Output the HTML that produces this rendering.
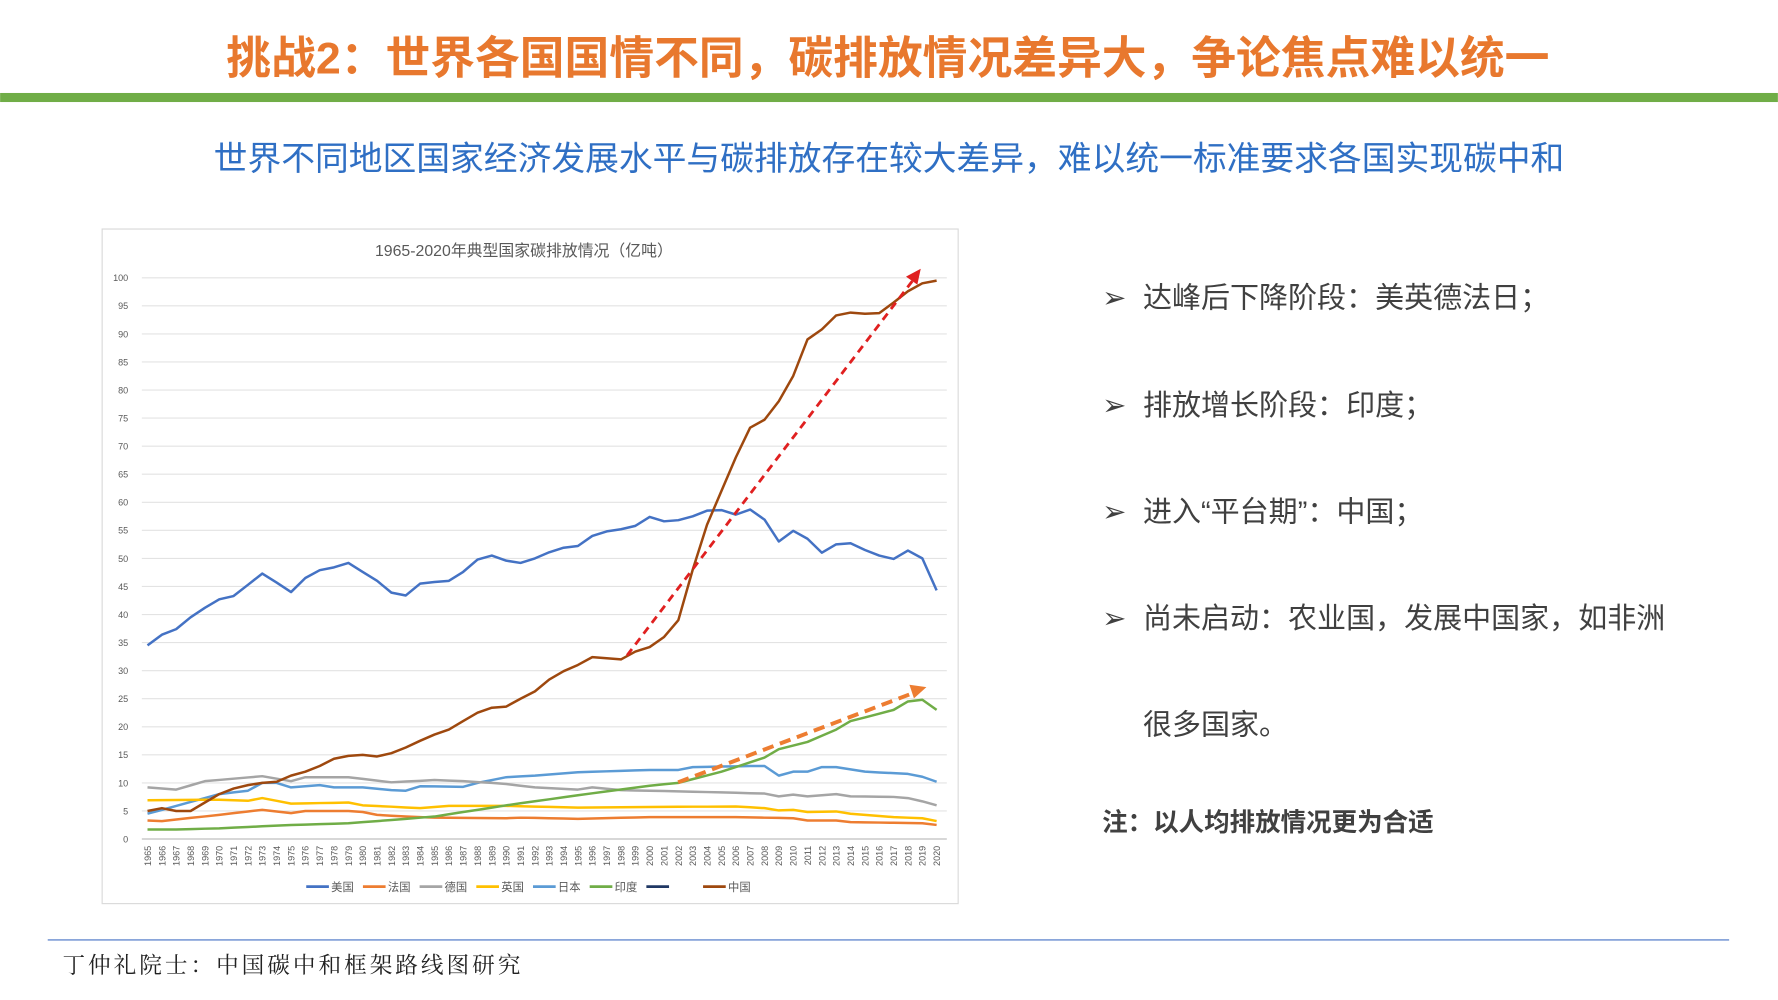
<!DOCTYPE html>
<html><head><meta charset="utf-8"><style>
html,body{margin:0;padding:0;background:#fff;}
svg{display:block;}
</style></head><body>
<svg id="s" width="1778" height="1000" viewBox="0 0 1568 882" xmlns="http://www.w3.org/2000/svg" font-family="Liberation Sans, Noto Sans CJK SC, sans-serif">
<rect width="1568" height="882" fill="#fff"/>
<text x="783" y="65" text-anchor="middle" font-size="39.5" font-weight="bold" fill="#E8782E" font-family="Liberation Sans, Noto Sans CJK SC, sans-serif">挑战2：世界各国国情不同，碳排放情况差异大，争论焦点难以统一</text>
<rect x="0" y="82" width="1568" height="8" fill="#70AD47"/>
<text x="784" y="150" text-anchor="middle" font-size="29.8" fill="#2F6FC4">世界不同地区国家经济发展水平与碳排放存在较大差异，难以统一标准要求各国实现碳中和</text>
<rect x="90" y="202" width="755" height="595" fill="#fff" stroke="#d9d9d9"/>
<text x="462" y="226" text-anchor="middle" font-size="14" fill="#595959">1965-2020年典型国家碳排放情况（亿吨）</text>
<g id="grid"></g>
<g id="lines" fill="none" stroke-width="2.2" stroke-linejoin="round"></g>
<line x1="553" y1="578" x2="806" y2="246" stroke="#E02020" stroke-width="2.5" stroke-dasharray="7,5"/>
<polygon points="812,237 799,244 809,251" fill="#E02020"/>
<line x1="598" y1="690" x2="806" y2="611" stroke="#ED7D31" stroke-width="3.5" stroke-dasharray="10,6"/>
<polygon points="817,606 802,604 806,616" fill="#ED7D31"/>
<g id="legend" font-size="10" fill="#595959"></g>
<g font-size="25.6" fill="#404040">
<text x="972" y="271">➢</text><text x="1008" y="271">达峰后下降阶段：美英德法日；</text>
<text x="972" y="366">➢</text><text x="1008" y="366">排放增长阶段：印度；</text>
<text x="972" y="460">➢</text><text x="1008" y="460">进入“平台期”：中国；</text>
<text x="972" y="554">➢</text><text x="1008" y="554">尚未启动：农业国，发展中国家，如非洲</text>
<text x="1008" y="648">很多国家。</text>
</g>
<text x="972" y="733" font-size="22.5" font-weight="bold" fill="#404040">注：以人均排放情况更为合适</text>
<line x1="42" y1="829" x2="1525" y2="829" stroke="#4472C4" stroke-width="1"/>
<text x="55" y="858" font-size="20" letter-spacing="2.6" fill="#222" font-family="Liberation Serif, Noto Serif CJK SC, serif">丁仲礼院士：中国碳中和框架路线图研究</text>
</svg>
<script>
var NS="http://www.w3.org/2000/svg";
function X(y){return 130+(y-1965)*12.655;}
function Y(v){return 740-v*4.95;}
function el(t,a,p,txt){var e=document.createElementNS(NS,t);for(var k in a)e.setAttribute(k,a[k]);if(txt!==undefined)e.textContent=txt;p.appendChild(e);return e;}
var g=document.getElementById('grid');
for(var v=0;v<=100;v+=5){el('line',{x1:125,x2:835,y1:Y(v),y2:Y(v),stroke:v==0?'#bfbfbf':'#e3e3e3','stroke-width':1},g);
el('text',{x:113,y:Y(v)+3,'text-anchor':'end','font-size':8,fill:'#595959'},g,v);}
for(var y=1965;y<=2020;y++){el('text',{transform:'translate('+(X(y)+3)+',746) rotate(-90)','text-anchor':'end','font-size':8,fill:'#595959'},g,y);}
function interp(kp){var o=[];for(var y=1965;y<=2020;y++){for(var i=0;i<kp.length-1;i++){if(y>=kp[i][0]&&y<=kp[i+1][0]){var a=kp[i],b=kp[i+1];o.push(a[1]+(b[1]-a[1])*(y-a[0])/((b[0]-a[0])||1));break;}}}return o;}
var S=[
['#5B9BD5',[[1965,4.5],[1970,8],[1972,8.6],[1973,10],[1974,10],[1975,9.2],[1977,9.6],[1978,9.2],[1980,9.2],[1982,8.7],[1983,8.6],[1984,9.4],[1987,9.3],[1988,10],[1990,11],[1992,11.3],[1995,11.9],[2000,12.3],[2002,12.3],[2003,12.8],[2007,13],[2008,13],[2009,11.3],[2010,12],[2011,12],[2012,12.8],[2013,12.8],[2015,12],[2018,11.6],[2019,11.1],[2020,10.2]]],
['#A5A5A5',[[1965,9.2],[1967,8.8],[1969,10.3],[1973,11.2],[1975,10.3],[1976,11],[1979,11],[1982,10.1],[1985,10.5],[1987,10.3],[1989,10],[1990,9.8],[1992,9.2],[1995,8.8],[1996,9.2],[1998,8.7],[2000,8.6],[2005,8.3],[2008,8.1],[2009,7.6],[2010,7.9],[2011,7.6],[2013,8],[2014,7.6],[2017,7.5],[2018,7.3],[2019,6.7],[2020,6]]],
['#FFC000',[[1965,6.9],[1970,7],[1972,6.8],[1973,7.3],[1975,6.3],[1979,6.5],[1980,6],[1984,5.5],[1986,5.9],[1990,5.9],[1995,5.6],[2000,5.7],[2006,5.8],[2008,5.5],[2009,5.1],[2010,5.2],[2011,4.8],[2013,4.9],[2014,4.5],[2017,3.9],[2019,3.7],[2020,3.2]]],
['#ED7D31',[[1965,3.3],[1966,3.2],[1970,4.3],[1973,5.2],[1975,4.6],[1976,5],[1979,5],[1980,4.8],[1981,4.3],[1983,4],[1985,3.8],[1990,3.7],[1991,3.8],[1995,3.6],[2000,3.9],[2006,3.9],[2010,3.7],[2011,3.3],[2013,3.3],[2014,3],[2019,2.8],[2020,2.5]]],
['#70AD47',[[1965,1.7],[1967,1.7],[1970,1.9],[1975,2.5],[1979,2.8],[1985,4],[1990,6],[1995,7.8],[2000,9.5],[2002,10],[2005,12],[2008,14.5],[2009,16],[2011,17.3],[2013,19.5],[2014,21],[2017,23],[2018,24.5],[2019,24.8],[2020,23]]],
['#4472C4',[[1965,34.5],[1966,36.4],[1967,37.4],[1968,39.5],[1969,41.2],[1970,42.7],[1971,43.3],[1972,45.3],[1973,47.3],[1974,45.7],[1975,44],[1976,46.5],[1977,47.9],[1978,48.4],[1979,49.2],[1980,47.6],[1981,46],[1982,43.9],[1983,43.4],[1984,45.5],[1985,45.8],[1986,46],[1987,47.6],[1988,49.8],[1989,50.5],[1990,49.6],[1991,49.2],[1992,50],[1993,51.1],[1994,51.9],[1995,52.2],[1996,54],[1997,54.8],[1998,55.2],[1999,55.8],[2000,57.4],[2001,56.6],[2002,56.8],[2003,57.5],[2004,58.5],[2005,58.6],[2006,57.8],[2007,58.7],[2008,56.9],[2009,53],[2010,54.9],[2011,53.5],[2012,51],[2013,52.5],[2014,52.7],[2015,51.5],[2016,50.5],[2017,49.9],[2018,51.4],[2019,50],[2020,44.3]]],
['#9E480E',[[1965,5],[1966,5.5],[1967,5],[1968,5],[1969,6.5],[1970,8],[1971,9],[1972,9.6],[1973,10],[1974,10.2],[1975,11.3],[1976,12],[1977,13],[1978,14.3],[1979,14.8],[1980,15],[1981,14.7],[1982,15.3],[1983,16.3],[1984,17.5],[1985,18.6],[1986,19.5],[1987,21],[1988,22.5],[1989,23.4],[1990,23.6],[1991,25],[1992,26.3],[1993,28.4],[1994,29.9],[1995,31],[1996,32.4],[1997,32.2],[1998,32],[1999,33.4],[2000,34.2],[2001,36],[2002,39],[2003,48],[2004,56],[2005,62],[2006,68],[2007,73.3],[2008,74.7],[2009,78],[2010,82.5],[2011,89],[2012,90.8],[2013,93.3],[2014,93.8],[2015,93.6],[2016,93.7],[2017,95.6],[2018,97.6],[2019,99],[2020,99.5]]]
];
var L=document.getElementById('lines');
S.forEach(function(s){var d=interp(s[1]);var p=d.map(function(v,i){return X(1965+i).toFixed(1)+','+Y(v).toFixed(1);}).join(' ');el('polyline',{points:p,stroke:s[0]},L);});
var lg=document.getElementById('legend');
var items=[['#4472C4','美国'],['#ED7D31','法国'],['#A5A5A5','德国'],['#FFC000','英国'],['#5B9BD5','日本'],['#70AD47','印度'],['#203864',''],['#9E480E','中国']];
var x0=270;items.forEach(function(it,i){var x=x0+i*50;el('line',{x1:x,x2:x+20,y1:782,y2:782,stroke:it[0],'stroke-width':2.5},lg);el('text',{x:x+22,y:786},lg,it[1]);});
</script>
</body></html>
